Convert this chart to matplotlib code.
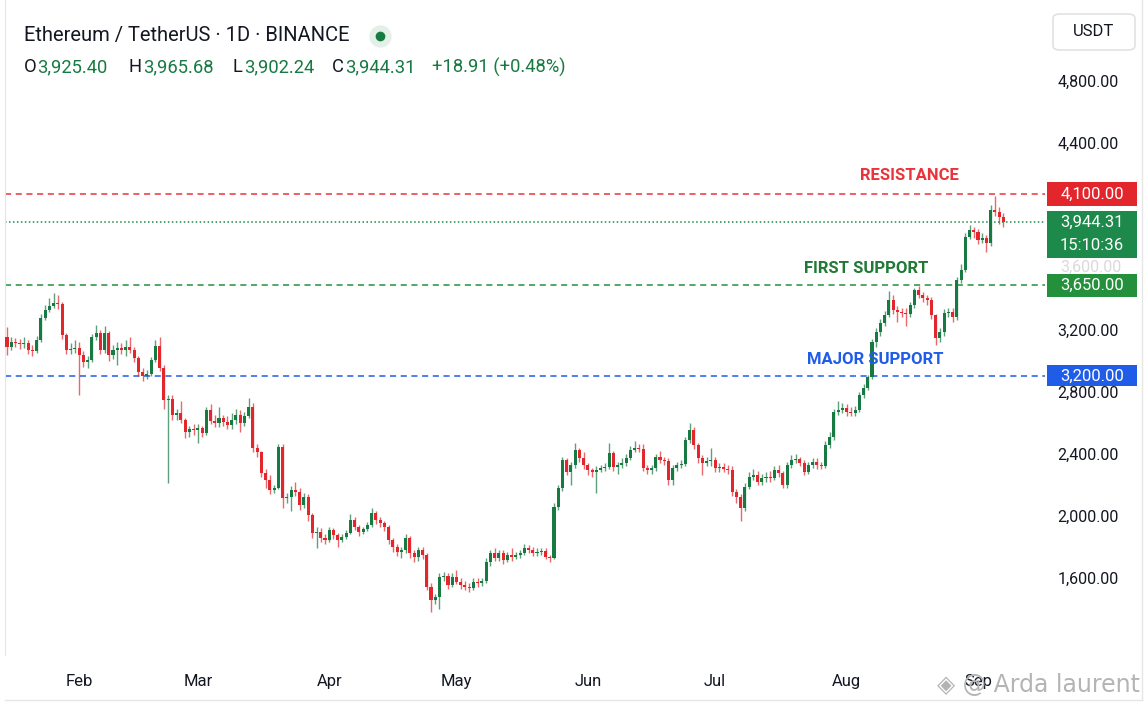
import matplotlib
matplotlib.use("Agg")
import matplotlib.pyplot as plt
import matplotlib.dates as mdates
import matplotlib.transforms as mtrans
from matplotlib.patches import Rectangle, FancyBboxPatch
import pandas as pd

plt.rcParams['font.family'] = ['Roboto', 'DejaVu Sans']

# daily candles, ETH/USDT (open of a day = close of the day before)
start_day = '2025-01-15'
first_open = 3150
closes = [3087, 3120, 3113, 3107, 3113, 3068, 3062, 3132, 3274, 3326,
          3352, 3370, 3364, 3165, 3068, 3075, 3081, 3036, 2991, 3004,
          3152, 3177, 3068, 3177, 3036, 3068, 3081, 3068, 3087, 3068,
          3017, 2926, 2901, 2913, 3004, 3094, 2952, 2746, 2752, 2649,
          2662, 2617, 2540, 2559, 2552, 2566, 2534, 2682, 2611, 2598,
          2630, 2604, 2585, 2617, 2649, 2598, 2643, 2701, 2437, 2411,
          2276, 2231, 2166, 2179, 2443, 2115, 2121, 2166, 2154, 2070,
          2121, 2005, 1890, 1898, 1857, 1844, 1909, 1877, 1844, 1864,
          1890, 1973, 1928, 1896, 1915, 1941, 2018, 1973, 1954, 1928,
          1844, 1799, 1767, 1780, 1857, 1761, 1735, 1780, 1748, 1542,
          1458, 1477, 1606, 1612, 1555, 1606, 1574, 1555, 1542, 1535,
          1574, 1567, 1580, 1703, 1761, 1729, 1761, 1716, 1748, 1735,
          1748, 1761, 1793, 1780, 1761, 1767, 1774, 1735, 1728, 2057,
          2179, 2360, 2282, 2327, 2424, 2372, 2327, 2295, 2282, 2295,
          2308, 2315, 2405, 2315, 2327, 2340, 2372, 2424, 2437, 2430,
          2308, 2295, 2308, 2379, 2360, 2353, 2231, 2308, 2327, 2334,
          2488, 2553, 2456, 2372, 2340, 2353, 2360, 2308, 2315, 2302,
          2296, 2154, 2121, 2050, 2186, 2250, 2263, 2218, 2244, 2250,
          2244, 2295, 2276, 2199, 2327, 2360, 2366, 2340, 2282, 2327,
          2347, 2327, 2321, 2456, 2508, 2669, 2682, 2694, 2669, 2662,
          2682, 2778, 2823, 2894, 3120, 3184, 3242, 3293, 3390, 3326,
          3313, 3306, 3300, 3358, 3454, 3422, 3403, 3390, 3293, 3145,
          3184, 3306, 3313, 3280, 3520, 3583, 3796, 3841, 3828, 3776,
          3789, 3757, 3970, 3957, 3925, 3892]
highs = [3215, 3150, 3145, 3140, 3150, 3135, 3100, 3160, 3300, 3360,
         3400, 3435, 3420, 3380, 3180, 3110, 3130, 3120, 3060, 3030,
         3170, 3230, 3200, 3220, 3190, 3100, 3120, 3110, 3130, 3150,
         3090, 3030, 2950, 2940, 3020, 3130, 3150, 2970, 2780, 2780,
         2690, 2740, 2630, 2580, 2590, 2590, 2580, 2700, 2720, 2650,
         2700, 2650, 2640, 2660, 2690, 2680, 2670, 2760, 2730, 2460,
         2420, 2300, 2260, 2200, 2460, 2460, 2150, 2190, 2220, 2180,
         2150, 2140, 2020, 1930, 1920, 1880, 1930, 1920, 1890, 1880,
         1910, 2010, 1990, 1940, 1930, 1960, 2050, 2030, 1990, 1970,
         1940, 1860, 1820, 1800, 1880, 1870, 1780, 1800, 1800, 1760,
         1570, 1500, 1630, 1640, 1630, 1630, 1650, 1600, 1580, 1570,
         1600, 1600, 1600, 1730, 1780, 1790, 1780, 1780, 1770, 1790,
         1770, 1780, 1820, 1810, 1800, 1790, 1790, 1790, 1750, 2080,
         2200, 2380, 2370, 2350, 2470, 2440, 2410, 2340, 2310, 2320,
         2330, 2340, 2470, 2420, 2350, 2370, 2400, 2450, 2480, 2460,
         2460, 2330, 2330, 2400, 2420, 2380, 2370, 2330, 2350, 2360,
         2510, 2600, 2570, 2470, 2390, 2380, 2440, 2380, 2340, 2340,
         2330, 2320, 2170, 2140, 2210, 2280, 2300, 2290, 2270, 2280,
         2290, 2320, 2330, 2290, 2350, 2390, 2400, 2380, 2360, 2350,
         2370, 2370, 2350, 2480, 2540, 2690, 2740, 2730, 2720, 2700,
         2710, 2800, 2850, 2910, 3140, 3210, 3270, 3320, 3450, 3420,
         3350, 3340, 3340, 3380, 3470, 3480, 3440, 3420, 3410, 3300,
         3210, 3330, 3340, 3340, 3540, 3620, 3820, 3870, 3860, 3850,
         3820, 3810, 4000, 4060, 3990, 3950]
lows = [3035, 3070, 3085, 3075, 3080, 3040, 3030, 3050, 3120, 3260,
        3310, 3340, 3330, 3140, 3040, 3040, 3050, 2780, 2960, 2950,
        2990, 3130, 3040, 3050, 3000, 3010, 2970, 3040, 3030, 3050,
        2990, 2900, 2870, 2880, 2900, 2990, 2930, 2690, 2210, 2620,
        2620, 2600, 2500, 2510, 2520, 2470, 2510, 2520, 2590, 2570,
        2570, 2580, 2560, 2560, 2590, 2540, 2580, 2630, 2410, 2380,
        2250, 2180, 2140, 2150, 2170, 2050, 2080, 2030, 2130, 2040,
        2050, 1970, 1860, 1790, 1830, 1820, 1830, 1850, 1800, 1830,
        1850, 1880, 1910, 1870, 1880, 1900, 1930, 1950, 1930, 1900,
        1820, 1770, 1740, 1730, 1760, 1730, 1700, 1710, 1720, 1520,
        1380, 1430, 1400, 1580, 1530, 1540, 1560, 1530, 1520, 1510,
        1520, 1540, 1550, 1570, 1680, 1710, 1710, 1690, 1700, 1710,
        1720, 1730, 1750, 1760, 1740, 1740, 1750, 1720, 1700, 1720,
        2040, 2160, 2260, 2200, 2310, 2350, 2300, 2260, 2250, 2150,
        2280, 2290, 2300, 2290, 2270, 2310, 2320, 2360, 2410, 2410,
        2290, 2270, 2270, 2290, 2340, 2330, 2200, 2200, 2290, 2310,
        2320, 2470, 2430, 2340, 2260, 2320, 2320, 2280, 2280, 2280,
        2270, 2130, 2080, 1970, 2030, 2170, 2230, 2200, 2200, 2220,
        2220, 2230, 2250, 2180, 2180, 2310, 2340, 2320, 2260, 2270,
        2310, 2300, 2300, 2310, 2440, 2490, 2650, 2660, 2640, 2640,
        2640, 2670, 2760, 2810, 2880, 3090, 3160, 3220, 3280, 3300,
        3250, 3280, 3220, 3280, 3340, 3400, 3380, 3360, 3270, 3100,
        3120, 3160, 3280, 3250, 3260, 3500, 3570, 3780, 3790, 3750,
        3760, 3700, 3740, 3930, 3880, 3860]

# price scale; 3,600 and 4,000 sit behind the price boxes
tick_prices = [1600, 2000, 2400, 2800, 3200, 4400, 4800]
hidden_ticks = [3600]

# support / resistance levels: printed value and where the line sits on the drawn scale
level_names = ['RESISTANCE', 'FIRST SUPPORT', 'MAJOR SUPPORT']
level_text = ['4,100.00', '3,650.00', '3,200.00']
level_marks = [4072, 3486, 2900]

ohlc_text = ['3,925.40', '3,965.68', '3,902.24', '3,944.31']
change_text = '+18.91 (+0.48%)'
last_text = '3,944.31'
timer_text = '15:10:36'

W, H = 1148, 709
UP, DOWN = '#177a42', '#e3262c'
RED, GREEN, GREEN2, BLUE = '#e8343a', '#1d8a4b', '#24903b', '#1f5ce8'
INK = '#131722'

fig = plt.figure(figsize=(W / 100, H / 100), dpi=100)
fig.patch.set_facecolor('white')

ax_top, ax_bot = 0, 655
ax = fig.add_axes([5 / W, 1 - ax_bot / H, 1040 / W, (ax_bot - ax_top) / H])
y_lo, y_hi = 1104, 5322
per_px = (y_hi - y_lo) / (ax_bot - ax_top)


def fx(x):
    return x / W


def fy(y):
    return 1 - y / H


dates = pd.date_range(start_day, periods=len(closes), freq='D')
xd = mdates.date2num(dates)
opens = [first_open] + closes[:-1]
cols = [UP if c >= o else DOWN for o, c in zip(opens, closes)]
bottoms = [min(o, c) for o, c in zip(opens, closes)]
heights = [max(abs(c - o), 8) for o, c in zip(opens, closes)]

ax.vlines(xd, lows, highs, colors=cols, lw=1.0, alpha=0.7, zorder=3)
ax.bar(xd, heights, bottom=bottoms, width=0.72, color=cols, lw=0, zorder=4)

ax.set_xlim(xd[0] - 0.47, xd[0] + 244.8)
ax.set_ylim(y_lo, y_hi)

# level lines
ax.axhline(level_marks[0], color=RED, lw=1.1, ls=(0, (4, 3)), zorder=2)
ax.axhline(level_marks[1], color=GREEN2, lw=1.1, ls=(0, (4, 3)), zorder=2)
ax.axhline(level_marks[2], color=BLUE, lw=1.1, ls=(0, (4, 3)), zorder=2)
ax.axhline(closes[-1], color=GREEN, lw=1.1, ls=(0, (1, 1.6)), zorder=2)

# axes styling
for s in ['top', 'right', 'bottom']:
    ax.spines[s].set_visible(False)
ax.spines['left'].set_color('#e6e6e6')
ax.yaxis.tick_right()
ax.set_yticks(tick_prices)
ax.set_yticklabels([f'{p:,.2f}' for p in tick_prices])
ax.tick_params(axis='y', length=0, pad=9, labelsize=11.5, labelcolor=INK)
ax.xaxis.set_major_locator(mdates.MonthLocator())
ax.xaxis.set_major_formatter(mdates.DateFormatter('%b'))
ax.tick_params(axis='x', length=0, pad=14, labelsize=12, labelcolor=INK)

blend = mtrans.blended_transform_factory(fig.transFigure, ax.transData)
for p in hidden_ticks:
    fig.text(fx(1060), p, f'{p:,.2f}', transform=blend, ha='left', va='center',
             color='#dadada', fontsize=11.5, zorder=1)

# price boxes on the scale
box_x, box_w = fx(1047), fx(90)


def price_box(level, text, color, up_px=11, down_px=12):
    r = Rectangle((box_x, level - down_px * per_px), box_w, (up_px + down_px) * per_px,
                  transform=blend, facecolor=color, edgecolor=color, lw=0,
                  clip_on=False, zorder=10)
    fig.add_artist(r)
    fig.text(fx(1092), level, text, transform=blend, ha='center', va='center',
             color='white', fontsize=12, zorder=11)


price_box(level_marks[0], level_text[0], DOWN, up_px=12, down_px=12)
price_box(level_marks[1], level_text[1], GREEN2)
price_box(level_marks[2], level_text[2], BLUE, up_px=11, down_px=10)
price_box(closes[-1], last_text, GREEN, up_px=11, down_px=36)
fig.text(fx(1092), closes[-1] - 23 * per_px, timer_text, transform=blend,
         ha='center', va='center', color='white', fontsize=12, zorder=11)

# level names
fig.text(fx(909), fy(175), level_names[0], ha='center', va='center',
         color=RED, fontsize=12, fontweight='bold')
fig.text(fx(866), fy(268), level_names[1], ha='center', va='center',
         color='#1f7a35', fontsize=12, fontweight='bold')
fig.text(fx(875), fy(359), level_names[2], ha='center', va='center',
         color=BLUE, fontsize=12, fontweight='bold')

# header
fig.text(fx(24), fy(36), 'Ethereum / TetherUS · 1D · BINANCE', ha='left', va='center',
         color=INK, fontsize=14.5)
fig.add_artist(plt.Line2D([fx(380)], [fy(36)], marker='o', markersize=16,
                          markerfacecolor='#e4efe8', markeredgecolor='none'))
fig.add_artist(plt.Line2D([fx(380)], [fy(36)], marker='o', markersize=7,
                          markerfacecolor=UP, markeredgecolor='none'))
lab_x = [24, 129, 232, 332]
val_x = [37, 143, 244, 345]
for lab, lx, vx, v in zip('OHLC', lab_x, val_x, ohlc_text):
    fig.text(fx(lx), fy(67), lab, ha='left', va='center', color=INK, fontsize=13.2)
    fig.text(fx(vx), fy(67), v, ha='left', va='center', color=UP, fontsize=13.2)
fig.text(fx(432), fy(67), change_text, ha='left', va='center', color=UP, fontsize=13.2)

# currency button
fig.add_artist(FancyBboxPatch((fx(1053), fy(50)), fx(82), 36 / H,
                              boxstyle='round,pad=0,rounding_size=0.006',
                              transform=fig.transFigure, facecolor='white',
                              edgecolor='#dcdcdc', lw=1))
fig.text(fx(1094), fy(31), 'USDT', ha='center', va='center', color=INK, fontsize=12)

# frame lines and watermark
fig.add_artist(plt.Line2D([fx(1142), fx(1142)], [fy(0), fy(700)], color='#e6e6e6', lw=1))
fig.add_artist(plt.Line2D([fx(5), fx(1142)], [fy(700), fy(700)], color='#e6e6e6', lw=1))
fig.text(fx(1140), fy(685), '◈ @ Arda laurent', ha='right', va='center',
         color='#b4b4b4', fontsize=17, family=['DejaVu Sans'])

fig.savefig('out.png', dpi=100)
